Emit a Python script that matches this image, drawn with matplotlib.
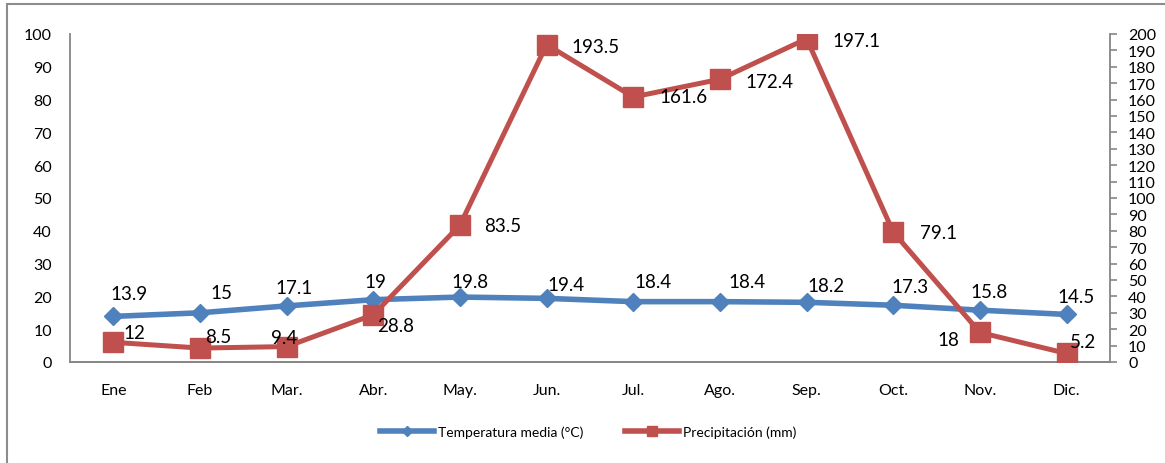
import matplotlib.pyplot as plt
from matplotlib.lines import Line2D
from matplotlib.patches import Rectangle

plt.rcParams['font.family'] = ['Lato', 'DejaVu Sans']

meses = ['Ene', 'Feb', 'Mar.', 'Abr.', 'May.', 'Jun.', 'Jul.', 'Ago.', 'Sep.', 'Oct.', 'Nov.', 'Dic.']
temperatura = [13.9, 15, 17.1, 19, 19.8, 19.4, 18.4, 18.4, 18.2, 17.3, 15.8, 14.5]
precipitacion = [12, 8.5, 9.4, 28.8, 83.5, 193.5, 161.6, 172.4, 197.1, 79.1, 18, 5.2]

# label offsets in pixels (dx, dy) - roughly where Excel left them
temp_off = [(16, 23), (21, 20), (7, 18), (2, 18), (10, 16), (19, 14),
            (20, 20), (27, 20), (19, 17), (17, 19), (9, 19), (9, 18)]
prec_off = [(21, 10), (18, 12), (-3, 9), (22, -11), (43, 0), (49, -2),
            (50, 0), (49, -2), (50, -2), (45, 0), (-32, -7), (16, 12)]

azul = '#4F81BD'
rojo = '#C0504D'
gris = '#868686'

fig = plt.figure(figsize=(11.65, 4.64), dpi=100)
ax = fig.add_axes([70 / 1165, 1 - 363 / 464, 1040 / 1165, 328 / 464])
ax2 = ax.twinx()

x = list(range(len(meses)))
ax.plot(x, temperatura, color=azul, lw=4, marker='D', ms=9, zorder=3)
ax2.plot(x, precipitacion, color=rojo, lw=3.6, marker='s', ms=14, zorder=3)

for i, v in enumerate(temperatura):
    ax.annotate(f'{v:g}', (i, v), xytext=temp_off[i], textcoords='offset pixels',
                ha='center', va='center', fontsize=13.5)
for i, v in enumerate(precipitacion):
    if meses[i] == 'Nov.':
        ax2.annotate(f'{v:g}', (i, v), xytext=prec_off[i], textcoords='offset pixels',
                     ha='center', va='center', fontsize=13.5, zorder=1,
                     arrowprops=dict(arrowstyle='-', color='#A0A0A0', lw=1.2,
                                     connectionstyle='angle,angleA=0,angleB=90',
                                     shrinkA=8, shrinkB=0))
    else:
        ax2.annotate(f'{v:g}', (i, v), xytext=prec_off[i], textcoords='offset pixels',
                     ha='center', va='center', fontsize=13.5, zorder=4)

ax.set_xlim(-0.5, 11.5)
ax.set_ylim(0, 100)
ax2.set_ylim(0, 200)
ax.set_xticks(x)
ax.set_xticklabels(meses)
ax.set_yticks(range(0, 101, 10))
ax2.set_yticks(range(0, 201, 10))

ax.tick_params(axis='x', length=0, pad=15, labelsize=11.5)
ax.tick_params(axis='y', length=0, pad=13, labelsize=11.5)
ax2.tick_params(axis='y', length=5, width=1.2, color=gris, pad=8, labelsize=11.5)

for a in (ax, ax2):
    a.spines['top'].set_visible(False)
    for s in ('left', 'right', 'bottom'):
        a.spines[s].set_color(gris)
        a.spines[s].set_linewidth(1.3)
ax.spines['right'].set_visible(False)
ax2.spines['left'].set_visible(False)

handles = [
    Line2D([], [], color=azul, lw=4, marker='D', ms=5),
    Line2D([], [], color=rojo, lw=4, marker='s', ms=7),
]
fig.legend(handles, ['Temperatura media (°C)', 'Precipitación (mm)'],
           loc='center', bbox_to_anchor=(0.505, 1 - 433 / 464), ncol=2, frameon=False,
           fontsize=10, handlelength=3.9, handletextpad=0.3, columnspacing=3.0)

# outer chart border
fig.patches.append(Rectangle((7 / 1165, -0.05), 1.2, 1 - 5 / 464 + 0.05,
                             transform=fig.transFigure, fill=False,
                             edgecolor='#8C8C8C', lw=1.5))

fig.savefig('out.png', dpi=100)
